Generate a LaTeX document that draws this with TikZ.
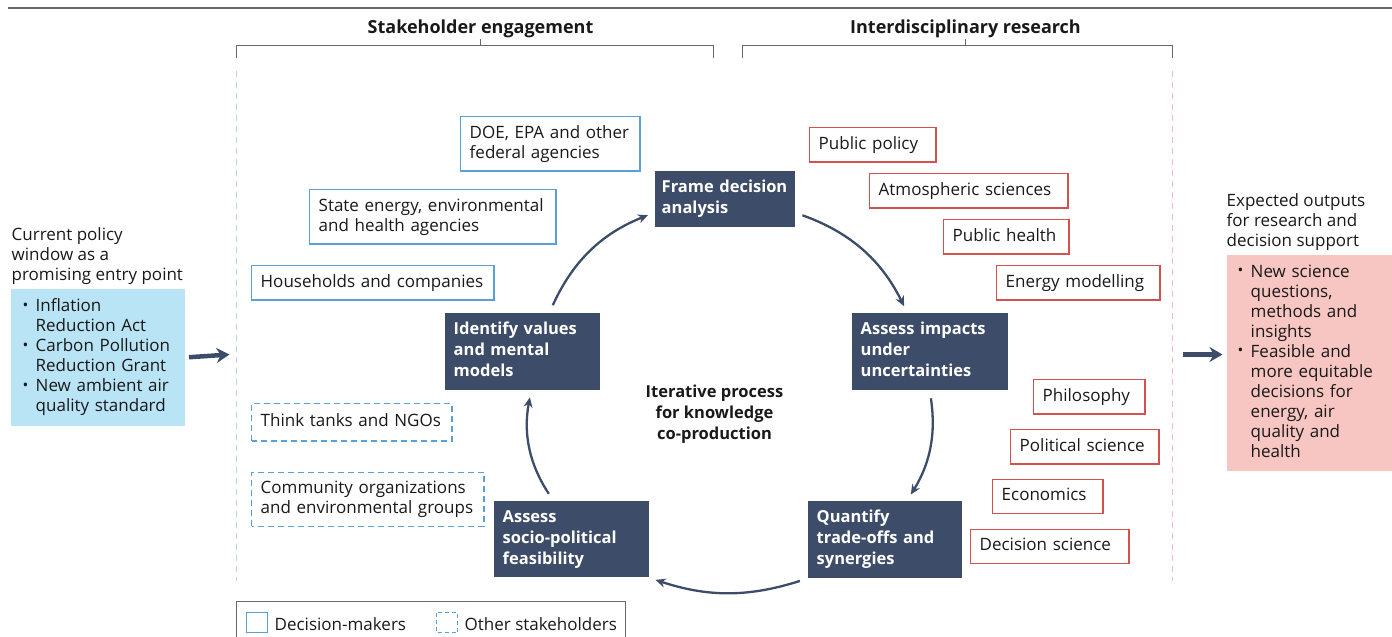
\documentclass[tikz,border=0pt]{standalone}
\usepackage{fontspec}
\setmainfont{Open Sans}
\usepackage{graphicx}
\usetikzlibrary{arrows.meta,positioning,calc}

\definecolor{marine}{RGB}{61,77,105}
\definecolor{ciel}{RGB}{90,160,215}
\definecolor{brique}{RGB}{215,80,80}
\definecolor{fondbleu}{RGB}{185,228,246}
\definecolor{fondrose}{RGB}{248,198,194}
\definecolor{gris}{RGB}{105,105,105}
\definecolor{encre}{RGB}{25,25,25}
\definecolor{tiretbleu}{RGB}{185,212,236}
\definecolor{tiretrose}{RGB}{242,188,188}

\newcommand{\corps}{\fontsize{17}{20}\selectfont}
\newcommand{\titre}{\fontsize{16.5}{21}\selectfont\bfseries}
\newcommand{\puce}{\makebox[13pt][l]{\raisebox{1.5pt}{\scalebox{.9}{\textbullet}}}}
\newcommand{\suite}{\hspace*{13pt}}

\tikzset{
  lignes/.style={execute at begin node={\hyphenpenalty=10000\vphantom{Ag}},
    execute at end node={\vphantom{Ag}}},
  boite/.style={text=encre, anchor=north west, align=left, font=\corps,
    inner xsep=9pt, inner ysep=8.5pt, lignes},
  cadrebleu/.style={ciel, line width=1.3pt},
  cadretiret/.style={cadrebleu, dash pattern=on 6pt off 4pt},
  cadrerouge/.style={brique, line width=1.3pt},
  etape/.style={fill=marine, text=white, anchor=north west, align=left,
    font=\titre, inner xsep=9pt, inner ysep=9.5pt, lignes},
  liste/.style={anchor=north west, align=left, font=\corps, text=encre, inner xsep=12pt,
    inner ysep=10pt, lignes},
  fleche/.style={-{Stealth[length=10pt,width=9pt]}, marine, line width=2.3pt,
    shorten <=8pt, shorten >=7pt},
  grosse/.style={-{Stealth[length=13pt,width=15pt]}, marine, line width=4.5pt},
  accolade/.style={gris, line width=1.3pt}
}

\begin{document}
\begin{tikzpicture}[x=1pt, y=1pt]
  \useasboundingbox (0,0) rectangle (1392,-637);
  % demi-point de decalage : les filets tombent au milieu des pixels
  \begin{scope}[shift={(0.5,-0.5)}]

  % filet du haut et accolades des deux volets
  \draw[gris, line width=2pt] (7,-7) -- (1392,-7);
  \node[font=\fontsize{18}{21}\selectfont\bfseries, text=encre] (volet1) at (480,-28) {Stakeholder engagement};
  \node[font=\fontsize{18}{21}\selectfont\bfseries, text=encre] (volet2) at (965,-28) {Interdisciplinary research};
  \draw[accolade] (236,-57) -- (236,-45) -- (713,-45) -- (713,-57);
  \draw[accolade] (480,-45) -- (480,-38);
  \draw[accolade] (742,-57) -- (742,-45) -- (1172,-45) -- (1172,-57);
  \draw[accolade] (965,-45) -- (965,-38);

  % bords en pointilles
  \draw[tiretbleu, line width=1.2pt, dash pattern=on 6pt off 5pt] (236,-70) -- (236,-580);
  \draw[tiretrose, line width=1.2pt, dash pattern=on 6pt off 5pt] (1172,-70) -- (1172,-580);

  % fenetre politique a gauche
  \node[anchor=north west, align=left, font=\corps, text=encre, inner sep=0pt, lignes]
    (entree) at (11,-227) {Current policy\\window as a\\promising entry point};
  \node[liste, fill=fondbleu, text width=150pt, minimum height=133pt] (fenetre) at (10,-288)
    {\puce Inflation\\\suite Reduction Act\\
     \puce Carbon Pollution\\\suite Reduction Grant\\
     \puce New ambient air\\\suite quality standard};
  \coordinate (cible1) at (229,-354);
  \draw[grosse] ([xshift=4pt]fenetre.east) -- (cible1);

  % resultats attendus a droite
  \node[anchor=north west, align=left, font=\corps, text=encre, inner sep=0pt, lignes]
    (sortie) at (1226,-193) {Expected outputs\\for research and\\decision support};
  \node[liste, fill=fondrose, text width=144pt, minimum height=213pt, inner xsep=11pt] (resultats) at (1226,-254)
    {\puce New science\\\suite questions,\\\suite methods and\\\suite insights\\
     \puce Feasible and\\\suite more equitable\\\suite decisions for\\\suite energy, air\\\suite quality and\\\suite health};
  \coordinate (depart2) at (1182,-354);
  \draw[grosse] (depart2) -- ([xshift=-4pt]resultats.west |- depart2);

  % parties prenantes
  \node[boite, text width=161pt] (doe) at (460,-116) {DOE, EPA and other\\federal agencies};
  \node[boite, text width=228pt] (etat) at (309,-189) {State energy, environmental\\and health agencies};
  \node[boite, text width=224pt] (menages) at (251,-265) {Households and companies};
  \node[boite, inner ysep=10pt, text width=182pt] (ong) at (251,-403) {Think tanks and NGOs};
  \node[boite, text width=214pt] (assoc) at (251,-472) {Community organizations\\and environmental groups};
  \foreach \b in {doe,etat,menages}
    \draw[cadrebleu] (\b.south west) rectangle (\b.north east);
  \foreach \b in {ong,assoc}
    \draw[cadretiret] (\b.south west) rectangle (\b.north east);

  % disciplines
  \node[boite, text width=108pt] (pol) at (809,-127) {Public policy};
  \node[boite, text width=180pt] (atmo) at (869,-173) {Atmospheric sciences};
  \node[boite, text width=107pt] (sante) at (943,-219) {Public health};
  \node[boite, text width=145pt] (energie) at (996,-265) {Energy modelling};
  \node[boite, text width=93pt] (philo) at (1033,-379) {Philosophy};
  \node[boite, text width=130pt] (sciencepo) at (1010,-429) {Political science};
  \node[boite, text width=92pt] (eco) at (992,-479) {Economics};
  \node[boite, text width=140pt] (decision) at (970,-529) {Decision science};
  \foreach \b in {pol,atmo,sante,energie,philo,sciencepo,eco,decision}
    \draw[cadrerouge] (\b.south west) rectangle (\b.north east);

  % etapes du cycle
  \node[etape, text width=126pt, inner xsep=7pt] (cadrer) at (654,-170) {Frame decision\\analysis};
  \node[etape, text width=138pt] (impacts) at (851,-312) {Assess impacts\\under\\uncertainties};
  \node[etape, text width=136pt] (arbitrages) at (807,-500) {Quantify\\trade-offs and\\synergies};
  \node[etape, text width=137pt] (faisabilite) at (493,-500) {Assess\\socio-political\\feasibility};
  \node[etape, text width=137pt] (valeurs) at (444,-312) {Identify values\\and mental\\models};
  \node[font=\titre, text=encre, align=center] (centre) at (714,-414) {Iterative process\\for knowledge\\co-production};

  \draw[fleche] (valeurs.55) to[bend left=22] (cadrer.191);
  \draw[fleche] (cadrer.349) to[bend left=22] (impacts.120);
  \draw[fleche] (impacts.south) to[bend left=20] (arbitrages.60);
  \draw[fleche] (arbitrages.south west) to[bend left=18] (faisabilite.south east);
  \draw[fleche] (faisabilite.115) to[bend left=22] (valeurs.283);

  % legende
  \draw[gris, line width=1pt] (236,-645) -- (236,-601) -- (625,-601) -- (625,-645);
  \draw[cadrebleu] (246,-612) rectangle (267,-632);
  \node[anchor=base west, font=\corps, text=encre, inner sep=0pt] (lgdecideurs) at (274,-630) {Decision-makers};
  \draw[cadrebleu, dash pattern=on 4pt off 3pt] (436,-612) rectangle (457,-632);
  \node[anchor=base west, font=\corps, text=encre, inner sep=0pt] (lgautres) at (464,-630) {Other stakeholders};
  \end{scope}
\end{tikzpicture}
\end{document}
